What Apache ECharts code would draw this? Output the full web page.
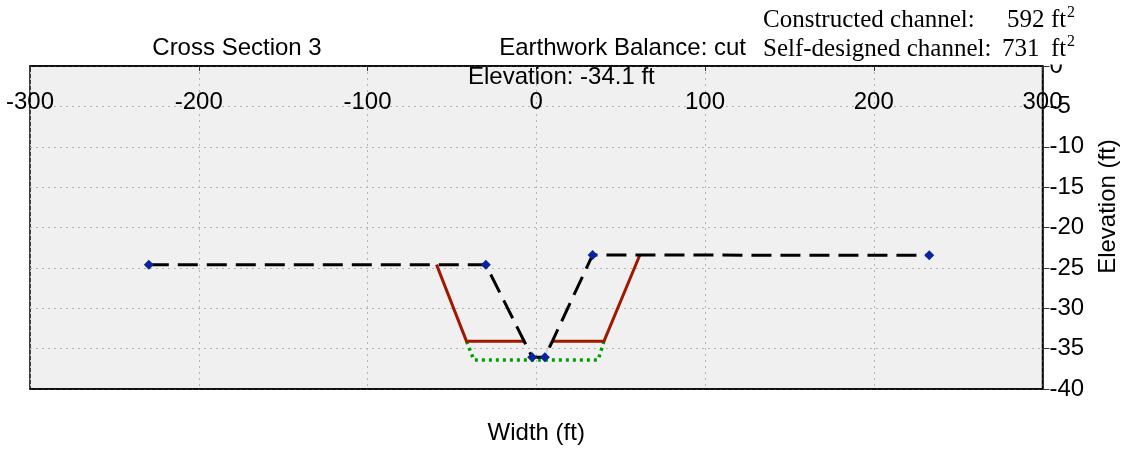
<!DOCTYPE html>
<html>
<head>
<meta charset="utf-8">
<script src="https://cdn.jsdelivr.net/npm/echarts@6/dist/echarts.min.js"></script>
<style>
html,body{margin:0;padding:0;background:#fff;}
#chart{width:1132px;height:450px;}
</style>
</head>
<body>
<div id="chart"></div>
<script>
// Ground (surveyed) profile - black dashed with blue markers
var groundX = [-229.6, -29.9, -2.4, 5.1, 33.4, 232.9];
var groundY = [-24.6, -24.6, -36.07, -36.07, -23.4, -23.45];
// Constructed channel - dark red
var constructedX = [-59.1, -41.3, -7.2, null, 9.7, 40.1, 61.4];
var constructedY = [-24.6, -34.1, -34.1, null, -34.1, -34.1, -23.4];
// Self-designed channel - green dotted
var designedX = [-41.3, -37.0, 36.7, 40.1];
var designedY = [-34.1, -36.4, -36.4, -34.1];
// Faint connector
var connectorX = [5.1, 8.1];
var connectorY = [-36.2, -34.1];

var xTicks = [-300, -200, -100, 0, 100, 200, 300];
var yTicks = [0, -5, -10, -15, -20, -25, -30, -35, -40];

var titleLeft = 'Cross Section 3';
var titleMid = 'Earthwork Balance: cut';
var elevText = 'Elevation: -34.1 ft';
var areaLabels = ['Constructed channel:', 'Self-designed channel:'];
var areaValues = ['592', '731'];
var areaUnit = 'ft';

function pairs(xs, ys) {
  return xs.map(function (x, i) { return x === null ? [null, null] : [x, ys[i]]; });
}

var chart = echarts.init(document.getElementById('chart'), null, {renderer: 'canvas'});
var sans = '"Liberation Sans", Arial, sans-serif';
var serif = '"Liberation Serif", "Times New Roman", serif';

var option = {
  animation: false,
  backgroundColor: '#ffffff',
  grid: {
    left: 30, right: 89.5, top: 66, bottom: 59,
    show: true, backgroundColor: '#f0f0f0', borderColor: '#000', borderWidth: 1.5,
    containLabel: false
  },
  xAxis: [{
    type: 'value', position: 'top', min: xTicks[0], max: xTicks[xTicks.length - 1], interval: 100,
    axisLine: {show: true, onZero: false, lineStyle: {color: '#000', width: 1.5}},
    axisTick: {show: true, inside: true, length: 5, lineStyle: {color: '#333', width: 1}},
    axisLabel: {show: true, inside: true, margin: 24, fontFamily: sans, fontSize: 24, color: '#000',
      showMinLabel: true, showMaxLabel: true},
    splitLine: {show: true, lineStyle: {color: '#b4b4b4', type: [2, 4], width: 1}}
  }, {
    type: 'value', position: 'bottom', min: xTicks[0], max: xTicks[xTicks.length - 1], interval: 100,
    axisLine: {show: true, onZero: false, lineStyle: {color: '#000', width: 1.5}},
    axisTick: {show: false}, axisLabel: {show: false}, splitLine: {show: false},
    name: 'Width (ft)', nameLocation: 'middle', nameGap: 32,
    nameTextStyle: {fontFamily: sans, fontSize: 24, color: '#000'}
  }],
  yAxis: [{
    type: 'value', position: 'right', min: yTicks[yTicks.length - 1], max: yTicks[0], interval: 5,
    axisLine: {show: true, onZero: false, lineStyle: {color: '#000', width: 1.5}},
    axisTick: {show: true, inside: false, length: 7, lineStyle: {color: '#333', width: 1}},
    axisLabel: {show: true, margin: 7, fontFamily: sans, fontSize: 24, color: '#000',
      showMinLabel: true, showMaxLabel: true},
    splitLine: {show: true, lineStyle: {color: '#b4b4b4', type: [2, 4], width: 1}},
    name: 'Elevation (ft)', nameLocation: 'middle', nameRotate: 90, nameGap: 54,
    nameTextStyle: {fontFamily: sans, fontSize: 24, color: '#000', padding: [0, 0, 0, 42]}
  }],
  series: [{
    type: 'line', name: 'Self-designed', data: pairs(designedX, designedY), xAxisIndex: 0,
    showSymbol: false, symbol: 'none', connectNulls: false, z: 2,
    lineStyle: {color: '#00a000', width: 3.5, type: [3, 4]}
  }, {
    type: 'line', name: 'Constructed', data: pairs(constructedX, constructedY), xAxisIndex: 0,
    showSymbol: false, symbol: 'none', connectNulls: false, z: 3,
    lineStyle: {color: '#a01800', width: 3}
  }, {
    type: 'line', name: 'connector', data: pairs(connectorX, connectorY), xAxisIndex: 0,
    showSymbol: false, symbol: 'none', z: 3,
    lineStyle: {color: '#c8c8c8', width: 1}
  }, {
    type: 'line', name: 'Ground', data: pairs(groundX, groundY), xAxisIndex: 0,
    symbol: 'diamond', symbolSize: [10, 10], showSymbol: true, z: 4,
    itemStyle: {color: '#0a259c', borderWidth: 0},
    lineStyle: {color: '#000', width: 3, type: [20, 9]}
  }],
  graphic: [
    {type: 'rect', z: 100, shape: {x: 752, y: 0, width: 380, height: 64.5}, style: {fill: '#fff'}, silent: true},
    {type: 'text', z: 101, x: 237, y: 48, style: {text: titleLeft, font: '24px ' + sans, fill: '#000', align: 'center', verticalAlign: 'middle'}},
    {type: 'text', z: 101, x: 746, y: 48, style: {text: titleMid, font: '24px ' + sans, fill: '#000', align: 'right', verticalAlign: 'middle'}},
    {type: 'text', z: 101, x: 468, y: 77, style: {text: elevText, font: '24px ' + sans, fill: '#000', align: 'left', verticalAlign: 'middle'}},
    {type: 'text', z: 101, x: 763, y: 8, style: {text: areaLabels[0], font: '25px ' + serif, fill: '#000', align: 'left', verticalAlign: 'top'}},
    {type: 'text', z: 101, x: 1007, y: 8, style: {text: areaValues[0], font: '25px ' + serif, fill: '#000', align: 'left', verticalAlign: 'top'}},
    {type: 'text', z: 101, x: 1051, y: 8, style: {text: areaUnit, font: '25px ' + serif, fill: '#000', align: 'left', verticalAlign: 'top'}},
    {type: 'text', z: 101, x: 1067, y: 5, style: {text: '2', font: '16px ' + serif, fill: '#000', align: 'left', verticalAlign: 'top'}},
    {type: 'text', z: 101, x: 763, y: 37, style: {text: areaLabels[1], font: '25px ' + serif, fill: '#000', align: 'left', verticalAlign: 'top'}},
    {type: 'text', z: 101, x: 1002, y: 37, style: {text: areaValues[1], font: '25px ' + serif, fill: '#000', align: 'left', verticalAlign: 'top'}},
    {type: 'text', z: 101, x: 1051, y: 37, style: {text: areaUnit, font: '25px ' + serif, fill: '#000', align: 'left', verticalAlign: 'top'}},
    {type: 'text', z: 101, x: 1067, y: 34, style: {text: '2', font: '16px ' + serif, fill: '#000', align: 'left', verticalAlign: 'top'}}
  ]
};
chart.setOption(option);
</script>
</body>
</html>
